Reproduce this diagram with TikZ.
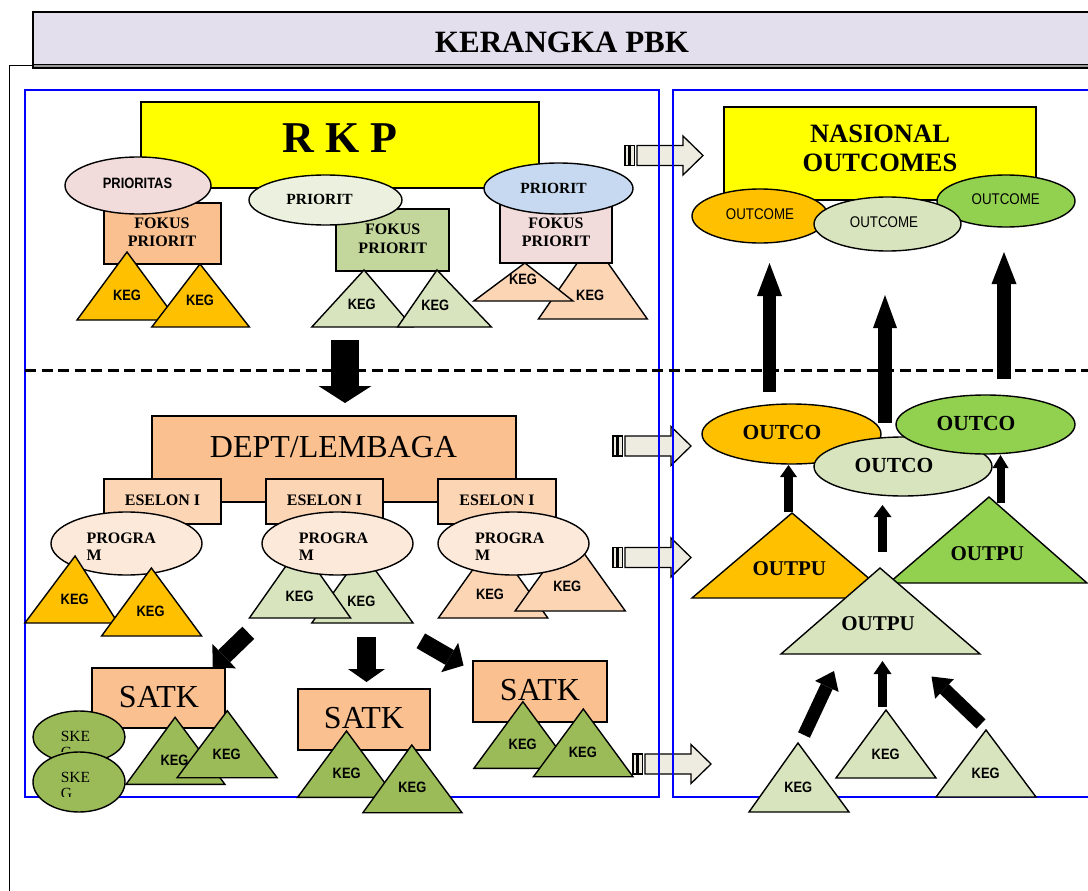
\documentclass[tikz,border=0pt]{standalone}
\usepackage{fontspec}
\setmainfont{Liberation Serif}
\newfontfamily\nsans[FakeStretch=0.86]{Liberation Sans}
\usetikzlibrary{arrows.meta,shapes.geometric,fit}
\definecolor{cYel}{HTML}{FFFF00}
\definecolor{cOrg}{HTML}{FFC000}
\definecolor{cTan}{HTML}{FAC090}
\definecolor{cPeach}{HTML}{FCD5B5}
\definecolor{cProg}{HTML}{FDE9D9}
\definecolor{cPink}{HTML}{F2DCDB}
\definecolor{cPale}{HTML}{EBF1DE}
\definecolor{cBlue}{HTML}{C6D9F1}
\definecolor{cFok}{HTML}{C3D69B}
\definecolor{cLG}{HTML}{D7E4BD}
\definecolor{cOlive}{HTML}{9BBB59}
\definecolor{cGreen}{HTML}{92D050}
\definecolor{cHA}{HTML}{EEECE1}
\definecolor{cTitle}{HTML}{E4DFEC}
\definecolor{cFrame}{HTML}{0000FF}
\newcommand\fsz[1]{\fontsize{#1}{#1}\selectfont}
\newcommand\tri[6]{\filldraw[tr, fill=#1] (#2,#3) -- (#4,#6) -- (#5,#6) -- cycle;}
\newcommand\blk[8]{\coordinate (#1s) at (#2,#3); \coordinate (#1e) at (#4,#5);
  \draw[line width=#6pt, -{Triangle[length=#7pt,width=#8pt,line width=0pt]}] (#1s) -- (#1e);}
\tikzset{
  shp/.style={draw=black, line width=1.4pt, inner sep=0pt, outer sep=0pt},
  ell/.style={shp, ellipse},
  tr/.style={draw=black, line width=1.4pt, line join=miter},
  txt/.style={inner sep=0pt, outer sep=0pt, text=black},
  kegt/.style={txt, font=\nsans\bfseries\fsz{15}},
  outc/.style={txt, font=\nsans\fsz{15.5}},
  sbt/.style={txt, font=\bfseries\fsz{16}},
  sbtwo/.style={txt, font=\bfseries\fontsize{16}{18.4}\selectfont, align=center},
  prog/.style={txt, font=\bfseries\fontsize{16}{17}\selectfont, align=left, anchor=north west},
  ske/.style={txt, font=\fontsize{15.5}{16}\selectfont, align=left, anchor=north west},
  bigt/.style={txt, font=\fsz{32}},
  ot/.style={txt, font=\bfseries\fsz{21.5}},
  panel/.style={draw=cFrame, line width=1.6pt, inner sep=0pt},
  hafill/.style={fill=cHA, draw=black, line width=1.3pt},
  harrow/.pic={
    \filldraw[hafill] (12,-10) -- (58,-10) -- (58,-19.5) -- (78,0) -- (58,19.5) -- (58,10) -- (12,10) -- cycle;
    \filldraw[hafill] (0,-10) rectangle (3.3,10);
    \filldraw[hafill] (5,-10) rectangle (9.3,10);
  },
}
\begin{document}
\begin{tikzpicture}[x=1pt,y=-1pt]
\useasboundingbox (0,0) rectangle (1088,891);
% outer frame
\coordinate (fr1) at (9.5,892); \coordinate (fr2) at (9.5,65.5); \coordinate (fr3) at (1095,65.5);
\draw[line width=1.4pt] (fr1) -- (fr2) -- (fr3);
% title
\filldraw[fill=gray!80, draw=black, line width=1.2pt] (33,12) rectangle (1100,68);
\node[draw=black, line width=1.2pt, fill=cTitle, inner sep=0pt, fit={(33,12) (1100,64.5)}] (titlebox) {};
\node[txt, font=\bfseries\fsz{31}] (title) at (562,42.5) {KERANGKA PBK};
% hollow arrows
\pic at (625,155.5) {harrow};
\pic at (613,446) {harrow};
\pic at (613,557.5) {harrow};
\pic at (633,764) {harrow};
% panels
\node[panel, fit={(25,90) (659,797)}] (lpanel) {};
\node[panel, fit={(673,90) (1100,797)}] (rpanel) {};
% dashed
\coordinate (d1) at (25,370.5); \coordinate (d2) at (1095,370.5);
\draw[line width=2.4pt, dash pattern=on 11pt off 5.5pt] (d1) -- (d2);

% ---------- top left ----------
\node[shp, fill=cYel, fit={(141,102) (539,188)}] (rkp) {};
\node[txt, font=\bfseries\fsz{44}] (rkpt) at (340,138) {R K P};
\tri{cPeach}{592.5}{241}{538.4}{647.3}{319}
\node[shp, fill=cTan, fit={(104,203) (221,264)}] (fok1) {};
\node[shp, fill=cFok, fit={(336,209) (449,271)}] (fok2) {};
\node[shp, fill=cPink, fit={(500,203) (612,263)}] (fok3) {};
\node[ell, fill=cPink, minimum width=146pt, minimum height=57pt] (pr1) at (138,185.5) {};
\node[ell, fill=cPale, minimum width=153pt, minimum height=50pt] (pr2) at (325.5,200) {};
\node[ell, fill=cBlue, minimum width=149pt, minimum height=51pt] (pr3) at (558.5,188.5) {};
\node[txt, font=\nsans\bfseries\fsz{15}] (pr1t) at (137.5,183) {PRIORITAS};
\node[sbt, font=\bfseries\fsz{15.5}] (pr2t) at (319.5,199.5) {PRIORIT};
\node[sbt, font=\bfseries\fsz{15.5}] (pr3t) at (553.5,188) {PRIORIT};
\node[sbtwo] (fok1t) at (162,232.5) {FOKUS\\PRIORIT};
\node[sbtwo] (fok2t) at (392.7,238.7) {FOKUS\\PRIORIT};
\node[sbtwo] (fok3t) at (556,232.5) {FOKUS\\PRIORIT};
\tri{cOrg}{127}{252}{77}{177}{320}
\node[kegt] (k1t) at (127,295) {KEG};
\tri{cOrg}{200}{264}{151.8}{249.4}{327}
\node[kegt] (k2t) at (200,300) {KEG};
\tri{cLG}{364}{270}{311.8}{412.7}{327}
\node[kegt] (k3t) at (361.8,304.3) {KEG};
\tri{cLG}{437}{270}{397.6}{491.4}{327}
\node[kegt] (k4t) at (435.3,305) {KEG};
\tri{cPeach}{524.9}{263}{473.9}{573}{301}
\node[kegt] (k5t) at (523,279.3) {KEG};
\node[kegt] (k6t) at (590.2,295) {KEG};
\blk{rk}{345}{340}{345}{403}{28}{17}{53}

% ---------- top right ----------
\node[shp, fill=cYel, fit={(724,107) (1036,200)}] (nas) {};
\node[txt, font=\bfseries\fontsize{26.5}{29}\selectfont, align=center] (nast) at (880,148.5) {NASIONAL\\OUTCOMES};
\node[ell, fill=cOrg, minimum width=136pt, minimum height=54pt] (e1) at (760,216) {};
\node[ell, fill=cGreen, minimum width=138pt, minimum height=52pt] (e3) at (1006,201) {};
\node[ell, fill=cLG, minimum width=147pt, minimum height=54pt] (e2) at (887.5,224) {};
\node[outc] (e1t) at (760,214) {OUTCOME};
\node[outc] (e2t) at (884,222) {OUTCOME};
\node[outc] (e3t) at (1005.7,199) {OUTCOME};
\blk{ua}{769.5}{392}{769.5}{263}{13}{33}{25}
\blk{ub}{885}{423}{885}{295}{14}{33}{24}
\blk{uc}{1004}{379}{1004}{252}{14}{32}{25}

% ---------- middle left ----------
\node[shp, fill=cTan, fit={(152,416) (516,502)}] (dept) {};
\node[bigt] (deptt) at (333.5,447) {DEPT/LEMBAGA};
\node[shp, fill=cPeach, fit={(104,479) (221,524)}] (es1) {};
\node[shp, fill=cPeach, fit={(266,479) (383,524)}] (es2) {};
\node[shp, fill=cPeach, fit={(438,479) (556,524)}] (es3) {};
\node[sbt] (es1t) at (162.5,500) {ESELON I};
\node[sbt] (es2t) at (324.5,500) {ESELON I};
\node[sbt] (es3t) at (497,500) {ESELON I};
\tri{cLG}{362.4}{552}{311.8}{413}{623}
\tri{cLG}{300}{546}{249.4}{350.6}{618}
\tri{cPeach}{493.1}{541}{438.4}{547.8}{618}
\tri{cPeach}{570.2}{534}{515.1}{625.3}{611}
\node[ell, fill=cProg, minimum width=151pt, minimum height=63pt] (pg1) at (126.5,543.5) {};
\node[ell, fill=cProg, minimum width=151pt, minimum height=63pt] (pg2) at (337.5,543.5) {};
\node[ell, fill=cProg, minimum width=151pt, minimum height=63pt] (pg3) at (513.5,543.5) {};
\node[prog] (pg1t) at (86.5,533) {PROGRA\\M};
\node[prog] (pg2t) at (298.8,533) {PROGRA\\M};
\node[prog] (pg3t) at (475,533) {PROGRA\\M};
\node[kegt] (l1t) at (299.6,596) {KEG};
\node[kegt] (l2t) at (361.4,601) {KEG};
\node[kegt] (pe1t) at (490,594) {KEG};
\node[kegt] (pe2t) at (567.3,586.7) {KEG};
\tri{cOrg}{75.1}{556}{24.9}{118}{623}
\node[kegt] (o1t) at (74.7,599.3) {KEG};
\tri{cOrg}{151.4}{568}{101.6}{201.6}{636}
\node[kegt] (o2t) at (150.6,611) {KEG};
\blk{dl}{248.3}{632.8}{212.7}{667.3}{17}{16}{34}
\blk{dm}{366.5}{637}{366.5}{682}{19}{13}{37}
\blk{dr}{420.8}{640.8}{463.5}{665.5}{17}{16}{34}

% ---------- bottom left ----------
\node[shp, fill=cTan, fit={(92,668) (225,728)}] (s1) {};
\node[shp, fill=cTan, fit={(298,689) (430,750)}] (s2) {};
\node[shp, fill=cTan, fit={(473,661) (607,722)}] (s3) {};
\node[bigt] (s1t) at (159,697) {SATK};
\node[bigt] (s2t) at (364,718) {SATK};
\node[bigt] (s3t) at (540,690) {SATK};
\tri{cOlive}{175.1}{717.3}{126.1}{224.9}{784.3}
\node[kegt] (g1t) at (174.5,760.7) {KEG};
\tri{cOlive}{227.3}{710.7}{177.1}{277.1}{777.7}
\node[kegt] (g2t) at (226.7,754.3) {KEG};
\tri{cOlive}{346.5}{731}{297.6}{395.4}{797.3}
\node[kegt] (g3t) at (346.7,773.3) {KEG};
\tri{cOlive}{411.8}{745}{362.9}{462}{812.7}
\node[kegt] (g4t) at (412.4,787.7) {KEG};
\tri{cOlive}{522.9}{701.7}{473.9}{571.9}{768.3}
\node[kegt] (g5t) at (522.7,744.3) {KEG};
\tri{cOlive}{583.3}{709}{533.5}{633}{776.7}
\node[kegt] (g6t) at (582.9,752.7) {KEG};
\node[ell, fill=cOlive, minimum width=92pt, minimum height=52pt] (sk1) at (79,737) {};
\begin{scope}
\clip (30,725) rectangle (130,751);
\node[ske] (sk1t) at (60.8,731.6) {SKE\\G};
\end{scope}
\node[ell, fill=cOlive, minimum width=92pt, minimum height=60pt] (sk2) at (79,782) {};
\begin{scope}
\clip (30,765) rectangle (130,796);
\node[ske] (sk2t) at (60.8,772.6) {SKE\\G};
\end{scope}

% ---------- right bottom ----------
\node[ell, fill=cOrg, minimum width=179pt, minimum height=60pt] (oc1) at (791.5,434) {};
\node[ell, fill=cLG, minimum width=178pt, minimum height=59pt] (oc2) at (903,466.5) {};
\node[ell, fill=cGreen, minimum width=179pt, minimum height=59pt] (oc3) at (985.5,424.5) {};
\node[ot] (oc1t) at (782,432.7) {OUTCO};
\node[ot] (oc2t) at (894,465.7) {OUTCO};
\node[ot] (oc3t) at (976,423.3) {OUTCO};
\tri{cOrg}{792}{513}{692}{892}{598}
\tri{cGreen}{989}{497}{889}{1087}{583}
\tri{cLG}{880}{568}{781}{980}{654}
\node[ot, font=\bfseries\fsz{21}] (op1t) at (789.3,568.3) {OUTPU};
\node[ot, font=\bfseries\fsz{21}] (op2t) at (987.3,553.3) {OUTPU};
\node[ot, font=\bfseries\fsz{21}] (op3t) at (878,624) {OUTPU};
\blk{sa}{788.5}{512}{788.5}{465}{9}{12}{17}
\blk{sb}{882.5}{552}{882.5}{505}{9}{12}{18}
\blk{sc}{1000.5}{503}{1000.5}{455}{8}{13}{16}
\tri{cLG}{798}{743}{749}{849}{812}
\node[kegt] (kr1t) at (798.3,787.3) {KEG};
\tri{cLG}{886}{710}{836}{936}{778}
\node[kegt] (kr2t) at (885.7,754) {KEG};
\tri{cLG}{986}{730}{936}{1036}{797}
\node[kegt] (kr3t) at (985.7,773.3) {KEG};
\blk{ka}{804}{735}{834}{671}{13}{17}{26}
\blk{kb}{882.5}{707}{882.5}{661}{9}{13}{18}
\blk{kc}{981}{724}{931.5}{676.5}{13}{18}{27}
\end{tikzpicture}
\end{document}
